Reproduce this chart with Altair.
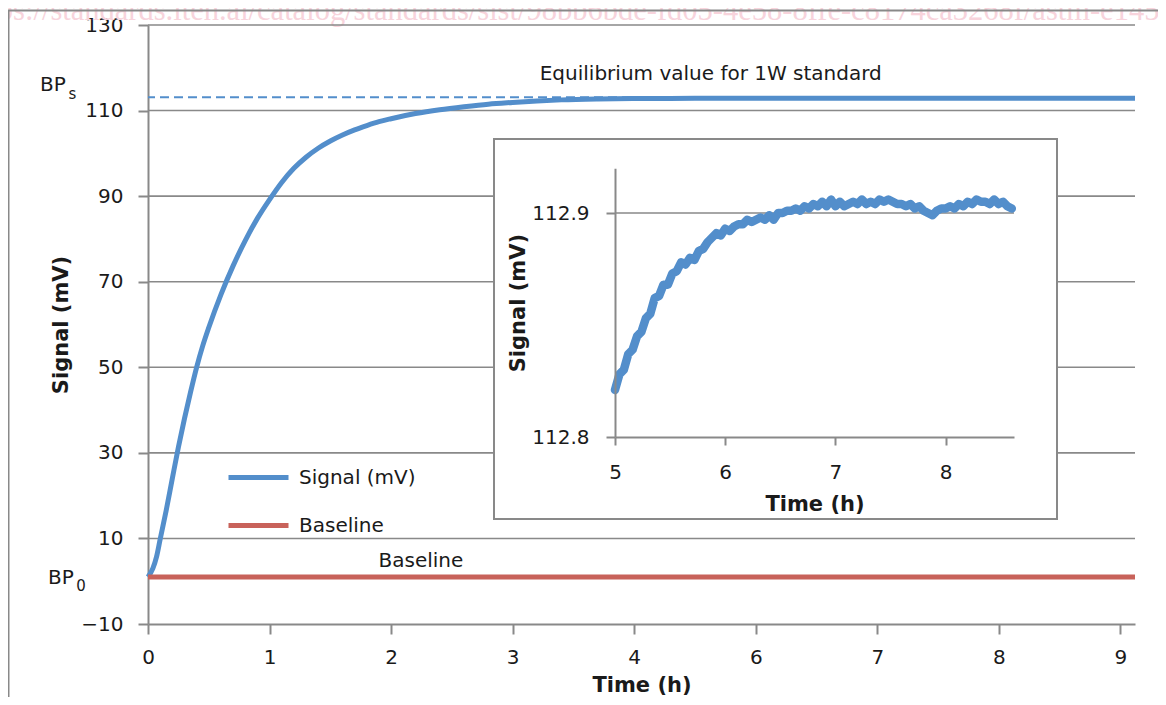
import altair as alt
import pandas as pd

# ---------------- data ----------------
# main chart: x in axis-position units (tick labels skip "5" as in the original)
X_TICK_POS = [0, 1, 2, 3, 4, 5, 6, 7, 8]
X_TICK_LABELS = ["0", "1", "2", "3", "4", "6", "7", "8", "9"]
Y_TICKS = [-10, 10, 30, 50, 70, 90, 110, 130]
X_MAX = 8.12

SIGNAL_T = [0.00, 0.04, 0.07, 0.10, 0.15, 0.20, 0.25, 0.30, 0.35, 0.40, 0.45, 0.50,
            0.60, 0.70, 0.80, 0.90, 1.00, 1.10, 1.20, 1.30, 1.40, 1.50, 1.60, 1.70,
            1.80, 1.90, 2.00, 2.20, 2.40, 2.60, 2.80, 3.00, 3.20, 3.40, 3.70, 4.00,
            4.50, 5.00, 6.00, 7.00, 8.12]
SIGNAL_MV = [1.0, 3.0, 5.7, 9.8, 16.6, 24.0, 31.3, 38.0, 44.2, 50.0, 55.0, 59.3,
             67.0, 73.7, 79.6, 84.8, 89.2, 93.2, 96.5, 99.1, 101.2, 102.9, 104.3, 105.5,
             106.5, 107.4, 108.1, 109.3, 110.2, 110.9, 111.5, 111.9, 112.25, 112.5, 112.7, 112.8,
             112.87, 112.9, 112.9, 112.9, 112.9]
BASELINE_T = [0.0, 8.12]
BASELINE_MV = [1.0, 1.0]
BP_S = 113.1
SERIES = ["Signal (mV)", "Baseline"]
COLORS = ["#538ecb", "#c8625a"]

# inset chart
INSET_T = [5.00, 5.04, 5.08, 5.12, 5.16, 5.20, 5.24, 5.28, 5.32, 5.36, 5.40, 5.44, 5.48,
           5.52, 5.56, 5.60, 5.64, 5.68, 5.72, 5.76, 5.80, 5.84, 5.88, 5.92, 5.96, 6.00,
           6.04, 6.08, 6.12, 6.16, 6.20, 6.24, 6.28, 6.32, 6.36, 6.40, 6.44, 6.48, 6.52,
           6.56, 6.60, 6.64, 6.68, 6.72, 6.76, 6.80, 6.84, 6.88, 6.92, 6.96, 7.00, 7.04,
           7.08, 7.12, 7.16, 7.20, 7.24, 7.28, 7.32, 7.36, 7.40, 7.44, 7.48, 7.52, 7.56,
           7.60, 7.64, 7.68, 7.72, 7.76, 7.80, 7.84, 7.88, 7.92, 7.96, 8.00, 8.04, 8.08,
           8.12, 8.16, 8.20, 8.24, 8.28, 8.32, 8.36, 8.40, 8.44, 8.48, 8.52, 8.56, 8.60]
INSET_MV = [112.821, 112.828, 112.830, 112.837, 112.839, 112.845, 112.847, 112.853, 112.855,
            112.862, 112.863, 112.868, 112.868, 112.873, 112.874, 112.878, 112.877, 112.880,
            112.879, 112.883, 112.884, 112.887, 112.889, 112.891, 112.890, 112.893, 112.892,
            112.894, 112.895, 112.895, 112.897, 112.896, 112.897, 112.898, 112.897, 112.899,
            112.897, 112.900, 112.900, 112.901, 112.901, 112.902, 112.901, 112.903, 112.902,
            112.904, 112.903, 112.905, 112.903, 112.906, 112.903, 112.905, 112.903, 112.904,
            112.905, 112.904, 112.906, 112.904, 112.905, 112.904, 112.906, 112.905, 112.906,
            112.905, 112.904, 112.904, 112.903, 112.904, 112.902, 112.903, 112.901, 112.900,
            112.899, 112.901, 112.902, 112.902, 112.903, 112.902, 112.904, 112.903, 112.905,
            112.904, 112.906, 112.905, 112.905, 112.904, 112.906, 112.904, 112.905, 112.903,
            112.902]
INSET_X_TICKS = [5, 6, 7, 8]
INSET_Y_TICKS = [112.8, 112.9]
INSET_X_DOMAIN = [5, 8.62]
INSET_Y_DOMAIN = [112.8, 112.92]

WATERMARK = "https://standards.iteh.ai/catalog/standards/sist/98bb6bde-fd05-4e58-8ffe-c8174ca3268f/astm-e1458"

# ---------------- styling ----------------
FONT = "DejaVu Sans"
GREY = "#898989"
TXT = "#1a1a1a"
W, H = 987, 599


def xs():
    return alt.Scale(domain=[0, X_MAX], nice=False, zero=False)


def ys():
    return alt.Scale(domain=[-10, 130], nice=False, zero=False)


def ixs():
    return alt.Scale(domain=INSET_X_DOMAIN, range=[467, 866], nice=False, zero=False)


def iys():
    return alt.Scale(domain=INSET_Y_DOMAIN, range=[412, 143.2], nice=False, zero=False)


lines_df = pd.DataFrame({
    "t": SIGNAL_T + BASELINE_T,
    "v": SIGNAL_MV + BASELINE_MV,
    "series": [SERIES[0]] * len(SIGNAL_T) + [SERIES[1]] * len(BASELINE_T),
})

label_expr = "[" + ",".join("'%s'" % s for s in X_TICK_LABELS) + "][datum.value]"

x_axis = alt.Axis(values=X_TICK_POS, labelExpr=label_expr, title="Time (h)", grid=False,
                  orient="bottom",
                  tickSize=10, tickWidth=2, tickColor=GREY, domainColor=GREY, domainWidth=2,
                  labelFontSize=20, labelFont=FONT, labelColor=TXT, labelPadding=13,
                  labelFlush=False, labelOverlap=False,
                  titleFontSize=21, titleFont=FONT, titleFontWeight="bold", titleColor=TXT,
                  titlePadding=7)
y_axis = alt.Axis(values=Y_TICKS, title="Signal (mV)", grid=False, orient="left",
                  tickSize=10, tickWidth=2, tickColor=GREY, domainColor=GREY, domainWidth=2,
                  labelFontSize=20, labelFont=FONT, labelColor=TXT, labelPadding=15,
                  labelOverlap=False,
                  titleFontSize=21, titleFont=FONT, titleFontWeight="bold", titleColor=TXT,
                  titlePadding=9)

watermark = alt.Chart(pd.DataFrame({"t": [-1.50], "v": [133.3], "s": [WATERMARK]})).mark_text(
    align="left", baseline="middle", font="Liberation Serif", fontSize=30.5, color="#f8d4dc"
).encode(x=alt.X("t:Q", scale=xs(), axis=None), y=alt.Y("v:Q", scale=ys(), axis=None), text="s:N")

grid = alt.Chart(pd.DataFrame({"g": Y_TICKS[1:]})).mark_rule(color=GREY, strokeWidth=1.6).encode(
    y=alt.Y("g:Q", scale=ys(), axis=None))

dashed = alt.Chart(pd.DataFrame({"v": [BP_S]})).mark_rule(
    color=COLORS[0], strokeWidth=2, strokeDash=[9, 5]).encode(y=alt.Y("v:Q", scale=ys(), axis=None))

lines = alt.Chart(lines_df).mark_line(strokeWidth=5, interpolate="monotone").encode(
    x=alt.X("t:Q", scale=xs(), axis=x_axis),
    y=alt.Y("v:Q", scale=ys(), axis=y_axis),
    color=alt.Color("series:N", scale=alt.Scale(domain=SERIES, range=COLORS),
                    legend=alt.Legend(title=None, orient="none", legendX=78, legendY=420,
                                      symbolType="stroke", symbolSize=3600, symbolStrokeWidth=5,
                                      labelFontSize=20, labelFont=FONT, labelColor=TXT,
                                      labelOffset=8, rowPadding=5, padding=0)),
)


def txt(s, t, v, size=20, align="center"):
    return alt.Chart(pd.DataFrame({"t": [t], "v": [v], "s": [s]})).mark_text(
        align=align, baseline="middle", font=FONT, fontSize=size, color=TXT
    ).encode(x=alt.X("t:Q", scale=xs(), axis=None), y=alt.Y("v:Q", scale=ys(), axis=None), text="s:N")


annotations = [
    txt("Equilibrium value for 1W standard", 4.63, 118.6),
    txt("Baseline", 2.245, 4.74),
    txt("BP", -0.888, 116.0, 20, "left"),
    txt("s", -0.655, 113.9, 15, "left"),
    txt("BP", -0.822, 0.8, 20, "left"),
    txt("0", -0.590, -1.1, 15, "left"),
]

frame_left = alt.Chart(pd.DataFrame({"a": [0]})).mark_rule(color=GREY, strokeWidth=2).encode(
    x=alt.value(-139.5), y=alt.value(-14.5), y2=alt.value(690))
frame_top = alt.Chart(pd.DataFrame({"a": [0]})).mark_rule(color=GREY, strokeWidth=2).encode(
    x=alt.value(-140), x2=alt.value(1030), y=alt.value(-14.5))

# ---------------- inset ----------------
ix_axis = alt.Axis(values=INSET_X_TICKS, format="d", title="Time (h)", grid=False, orient="bottom",
                   offset=-187, tickSize=8, tickWidth=2, tickColor=GREY, domainColor=GREY,
                   domainWidth=2, labelFontSize=20, labelFont=FONT, labelColor=TXT,
                   labelPadding=17, labelFlush=False, labelOverlap=False,
                   titleFontSize=21, titleFont=FONT, titleFontWeight="bold", titleColor=TXT,
                   titlePadding=11, zindex=3)
iy_axis = alt.Axis(values=INSET_Y_TICKS, format=".1f", title="Signal (mV)", grid=False, orient="left",
                   offset=-467, tickSize=9, tickWidth=2, tickColor=GREY, domainColor=GREY,
                   domainWidth=2, labelFontSize=20, labelFont=FONT, labelColor=TXT,
                   labelPadding=17, labelOverlap=False,
                   titleFontSize=21, titleFont=FONT, titleFontWeight="bold", titleColor=TXT,
                   titlePadding=3, zindex=3)

inset_box = alt.Chart(pd.DataFrame({"a": [0]})).mark_rect(
    fill="white", stroke=GREY, strokeWidth=2).encode(
    x=alt.value(346), x2=alt.value(909), y=alt.value(114), y2=alt.value(494))

inset_grid = alt.Chart(pd.DataFrame({"t": [INSET_X_DOMAIN[0]], "t2": [INSET_X_DOMAIN[1]],
                                     "v": [INSET_Y_TICKS[1]]})).mark_rule(
    color=GREY, strokeWidth=1.6).encode(
    x=alt.X("t:Q", scale=ixs(), axis=None), x2="t2:Q", y=alt.Y("v:Q", scale=iys(), axis=None))

inset_line = alt.Chart(pd.DataFrame({"t": INSET_T, "v": INSET_MV})).mark_line(
    color=COLORS[0], strokeWidth=8.5, strokeJoin="round", strokeCap="round").encode(
    x=alt.X("t:Q", scale=ixs(), axis=ix_axis),
    y=alt.Y("v:Q", scale=iys(), axis=iy_axis))

chart = alt.layer(
    watermark, grid, dashed, lines, *annotations, frame_left, frame_top,
    inset_box, inset_grid, inset_line,
).resolve_scale(x="independent", y="independent").properties(
    width=W, height=H,
    padding={"left": 140, "top": 17, "right": 23, "bottom": 73},
    autosize=alt.AutoSizeParams(type="none"),
).configure(font=FONT).configure_view(stroke=None)

chart.save("out.html", embed_options={"renderer": "svg", "actions": False})
